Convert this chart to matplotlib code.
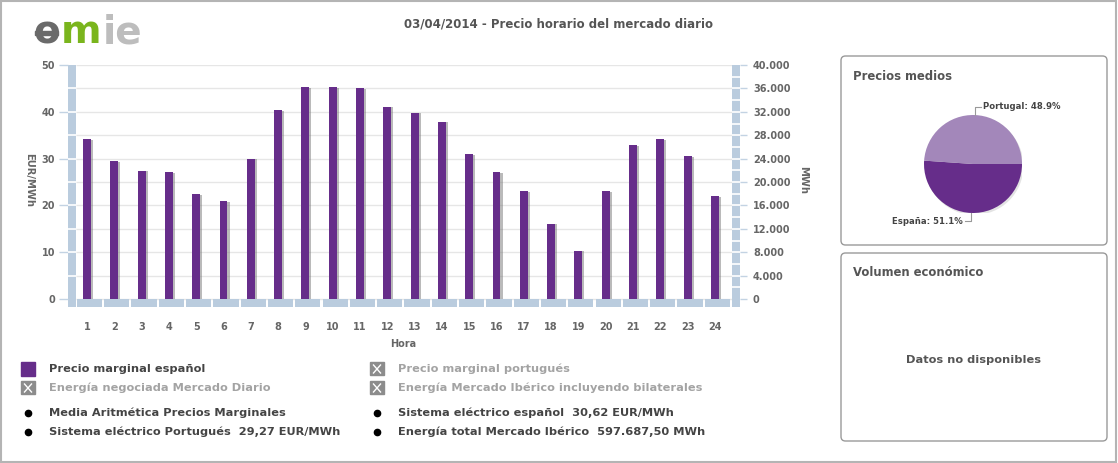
import numpy as np
import matplotlib
matplotlib.use('Agg')
import matplotlib.pyplot as plt
from matplotlib.patches import Rectangle, FancyBboxPatch, Circle
from matplotlib.lines import Line2D
from matplotlib.ticker import FuncFormatter

''' Data '''
horas = list(range(1, 25))
precio_es = [34.1, 29.5, 27.4, 27.1, 22.4, 20.9, 30.0, 40.4, 45.2, 45.3, 45.1, 41.1,
             39.8, 37.9, 30.9, 27.1, 23.0, 16.1, 10.3, 23.0, 32.9, 34.1, 30.5, 22.0]
eur_ticks = [0, 10, 20, 30, 40, 50]
mwh_ticks = list(range(0, 40001, 4000))
pie_labels = ['España', 'Portugal']
pie_shares = [51.1, 48.9]

titulo = '03/04/2014 - Precio horario del mercado diario'
leyenda_col1 = [('box', 'Precio marginal español', True),
                ('x', 'Energía negociada Mercado Diario', False),
                ('dot', 'Media Aritmética Precios Marginales', True),
                ('dot', 'Sistema eléctrico Portugués  29,27 EUR/MWh', True)]
leyenda_col2 = [('x', 'Precio marginal portugués', False),
                ('x', 'Energía Mercado Ibérico incluyendo bilaterales', False),
                ('dot', 'Sistema eléctrico español  30,62 EUR/MWh', True),
                ('dot', 'Energía total Mercado Ibérico  597.687,50 MWh', True)]

''' Style '''
purple = '#662D8A'
light_purple = '#A387BA'
band = '#BACCDE'
grid_c = '#E6E6E6'
txt = '#555555'
plt.rcParams['font.family'] = ['DejaVu Sans']
plt.rcParams['font.weight'] = 'bold'

W, H = 1118, 463
fig = plt.figure(figsize=(W / 100, H / 100), dpi=100)
fig.patch.set_facecolor('white')

def fx(x):
    return x / W

def fy(y):
    return 1 - y / H

# outer frame
fig.add_artist(Rectangle((fx(1), fy(462)), (1115) / W, 461 / H, fill=False,
                         ec='#B4B4B4', lw=1.5, transform=fig.transFigure))

# logo
fig.text(fx(46.5), fy(43), 'o', color='#6A6A6A', fontsize=28, ha='center', va='baseline')
fig.add_artist(Rectangle((fx(35), fy(35)), 23 / W, 4 / H, color='#6A6A6A', transform=fig.transFigure))
fig.text(fx(81), fy(43), 'm', color='#7AB51D', fontsize=28, ha='center', va='baseline')
fig.text(fx(103), fy(43), 'ie', color='#BDBDBD', fontsize=28, ha='left', va='baseline')

fig.text(fx(558), fy(24), titulo, color=txt, fontsize=8.5, ha='center', va='center')

''' Main bar chart '''
px_unit_x = 27.3
px_unit_y = (299 - 65) / 50
xl = 1 + (68 - 87) / px_unit_x
xr = 1 + (740 - 87) / px_unit_x
xin_l = 1 + (76 - 87) / px_unit_x
xin_r = 1 + (732 - 87) / px_unit_x
yb = -(307 - 299) / px_unit_y

ax = fig.add_axes([fx(68), fy(307), (740 - 68) / W, (307 - 65) / H])
ax.set_xlim(xl, xr)
ax.set_ylim(yb, 50)
for s in ax.spines.values():
    s.set_visible(False)

# grid
ax.hlines(np.arange(0, 51, 5), xin_l, xin_r, color=grid_c, lw=1, zorder=0)

# side bands
ax.add_patch(Rectangle((xl, yb), xin_l - xl, 50 - yb, color=band, lw=0, zorder=1))
ax.hlines(np.arange(5, 50, 5), xl, xin_l, color='white', lw=1.2, zorder=2)
ax.add_patch(Rectangle((xin_r, yb), xr - xin_r, 50 - yb, color=band, lw=0, zorder=1))
ax.hlines(np.arange(2000, 40000, 2000) / 800, xin_r, xr, color='white', lw=1.2, zorder=2)

h = np.array(horas)
# shadow + bars
ax.bar(h + 0.075, np.array(precio_es) - 0.15, width=0.29, color='#777777', alpha=0.5, lw=0, zorder=2)
ax.bar(h, precio_es, width=0.29, color=purple, lw=0, zorder=3)
# bottom category blocks
ax.bar(h + 0.09, yb, bottom=0, width=0.92, color=band, lw=0, zorder=4)

ax.set_yticks(eur_ticks)
ax.tick_params(axis='y', length=6.5, width=1, color='#C3D3E3', pad=2.9,
               labelsize=7, labelcolor='#666666')
ax.set_xticks(horas)
ax.tick_params(axis='x', length=0, pad=11, labelsize=7, labelcolor='#666666')

ax2 = ax.twinx()
ax2.set_ylim(yb * 800, 40000)
for s in ax2.spines.values():
    s.set_visible(False)
ax2.set_yticks(mwh_ticks)
ax2.yaxis.set_major_formatter(FuncFormatter(lambda v, p: f"{int(v):,}".replace(',', '.')))
ax2.tick_params(axis='y', length=5, width=1, color='#C3D3E3', pad=4.3,
                labelsize=7, labelcolor='#666666')

fig.text(fx(29), fy(180), 'EUR/MWh', rotation=270, color='#666666', fontsize=7.2, ha='center', va='center')
fig.text(fx(803), fy(180), 'MWh', rotation=270, color='#666666', fontsize=7.2, ha='center', va='center')
fig.text(fx(403), fy(344), 'Hora', color='#666666', fontsize=7, ha='center', va='center')

''' Legend '''
rows_y = [369, 388, 413, 432]

def draw_marker(kind, cx, cy):
    if kind == 'box':
        fig.add_artist(Rectangle((fx(cx - 7), fy(cy + 7)), 14 / W, 14 / H, color=purple,
                                 transform=fig.transFigure))
    elif kind == 'x':
        fig.add_artist(Rectangle((fx(cx - 7), fy(cy + 6)), 14 / W, 13 / H, color='#8C8C8C',
                                 transform=fig.transFigure))
        for dx in (-1, 1):
            fig.add_artist(Line2D([fx(cx - 3.5), fx(cx + 3.5)], [fy(cy - 4 * dx), fy(cy + 4 * dx)],
                                  color='white', lw=1, transform=fig.transFigure))
    else:
        fig.add_artist(Line2D([fx(cx)], [fy(cy)], marker='o', ms=4.5, color='black', lw=0,
                              transform=fig.transFigure))

for (kind, label, active), y in zip(leyenda_col1, rows_y):
    draw_marker(kind, 28, y)
    fig.text(fx(49), fy(y), label, color='#444444' if active else '#A3A3A3',
             fontsize=8.2, ha='left', va='center')
for (kind, label, active), y in zip(leyenda_col2, rows_y):
    draw_marker(kind, 377, y)
    fig.text(fx(398), fy(y), label, color='#444444' if active else '#A3A3A3',
             fontsize=8.2, ha='left', va='center')

''' Right panels '''
for top, bottom in [(56, 245), (253, 441)]:
    fig.add_artist(FancyBboxPatch((fx(841), fy(bottom)), (1107 - 841) / W, (bottom - top) / H,
                                  boxstyle='round,pad=0,rounding_size=0.004', mutation_aspect=W / H,
                                  ec='#9A9A9A', fc='none', lw=1, transform=fig.transFigure))
fig.text(fx(853), fy(76), 'Precios medios', color=txt, fontsize=8.4, ha='left', va='center')
fig.text(fx(853), fy(272), 'Volumen económico', color=txt, fontsize=8.4, ha='left', va='center')
fig.text(fx(973), fy(360), 'Datos no disponibles', color=txt, fontsize=8.2, ha='center', va='center')

ax_p = fig.add_axes([fx(924), fy(213), 98 / W, 98 / H])
ax_p.add_patch(Circle((0.03, -0.04), 1, color='#C8C8C8', alpha=0.5, lw=0, zorder=0))
wedges, _ = ax_p.pie(pie_shares, colors=[purple, light_purple], startangle=0,
                     counterclock=False, wedgeprops=dict(lw=0))
ax_p.set_xlim(-1, 1)
ax_p.set_ylim(-1, 1)
ax_p.axis('off')
for w, lab, val in zip(wedges, pie_labels, pie_shares):
    a = np.deg2rad((w.theta1 + w.theta2) / 2)
    x0, y0 = np.cos(a), np.sin(a)
    sy = 1 if y0 > 0 else -1
    sx = 1 if x0 > 0 else -1
    ax_p.plot([x0, x0, x0 + sx * 0.13], [y0, sy * 1.17, sy * 1.17], color='#999999', lw=0.8, clip_on=False)
    ax_p.text(x0 + sx * 0.165, sy * 1.17, f"{lab}: {val}%", color='#444444', fontsize=6.1,
              ha='left' if sx > 0 else 'right', va='center', clip_on=False)

plt.savefig('out.png', dpi=100)
